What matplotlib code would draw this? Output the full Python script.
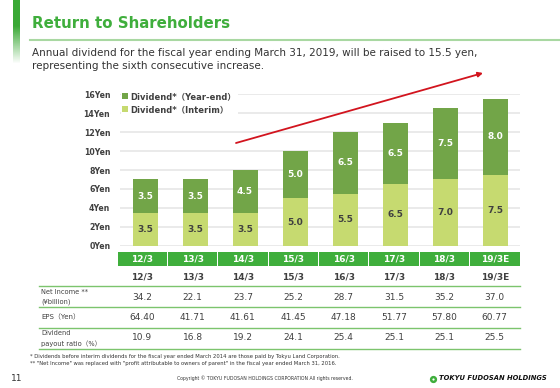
#!/usr/bin/env python3
import numpy as np
import matplotlib
matplotlib.use("Agg")
import matplotlib.pyplot as plt

plt.rcParams['font.family'] = ['DejaVu Sans', 'Noto Sans CJK JP']

# data
periods = ['12/3', '13/3', '14/3', '15/3', '16/3', '17/3', '18/3', '19/3E']
interim = [3.5, 3.5, 3.5, 5.0, 5.5, 6.5, 7.0, 7.5]
year_end = [3.5, 3.5, 4.5, 5.0, 6.5, 6.5, 7.5, 8.0]
net_income = ['34.2', '22.1', '23.7', '25.2', '28.7', '31.5', '35.2', '37.0']
eps = ['64.40', '41.71', '41.61', '41.45', '47.18', '51.77', '57.80', '60.77']
payout = ['10.9', '16.8', '19.2', '24.1', '25.4', '25.1', '25.1', '25.5']
yticks = [0, 2, 4, 6, 8, 10, 12, 14, 16]

GREEN = '#3FAE3C'
DARK = '#72A548'
LIGHT = '#C6DA70'
TXT = '#404040'

W, H = 560, 388
fig = plt.figure(figsize=(W / 100, H / 100), dpi=100)

# bar chart, placed in pixel coordinates
x0, x1, ytop, ybot = 120, 520, 94.3, 245.7
ax = fig.add_axes([x0 / W, (H - ybot) / H, (x1 - x0) / W, (ybot - ytop) / H])
x = np.arange(len(periods))
ax.bar(x, interim, width=0.5, color=LIGHT, zorder=3, label='Dividend*（Interim）')
ax.bar(x, year_end, width=0.5, bottom=interim, color=DARK, zorder=3,
       label='Dividend*（Year-end）')
for i in range(len(periods)):
    ax.text(x[i], interim[i] / 2, f'{interim[i]:.1f}', ha='center', va='center',
            fontsize=6.5, fontweight='bold', color=TXT, zorder=4)
    ax.text(x[i], interim[i] + year_end[i] / 2, f'{year_end[i]:.1f}', ha='center',
            va='center', fontsize=6.5, fontweight='bold', color='white', zorder=4)
ax.set_xlim(-0.5, len(periods) - 0.5)
ax.set_ylim(0, 16)
ax.set_yticks(yticks)
ax.set_yticklabels([f'{v}Yen' for v in yticks], fontsize=5.6, fontweight='bold', color=TXT)
ax.tick_params(axis='y', length=0, pad=7)
ax.set_xticks([])
ax.grid(axis='y', color='#E6E6E6', linewidth=1.2, zorder=0)
for s in ax.spines.values():
    s.set_visible(False)
h, l = ax.get_legend_handles_labels()
leg = ax.legend(h[::-1], l[::-1], loc='upper left', bbox_to_anchor=(121 / W, (H - 90.5) / H),
                bbox_transform=fig.transFigure, frameon=True, fontsize=6,
                handlelength=0.7, handleheight=0.7, handletextpad=0.3,
                labelspacing=0.55, borderpad=0.15, borderaxespad=0)
leg.get_frame().set_facecolor('white')
leg.get_frame().set_edgecolor('none')
leg.get_frame().set_alpha(1)
for t in leg.get_texts():
    t.set_fontweight('bold')
    t.set_color(TXT)

# overlay in pixel coordinates for heading, table and footer
ov = fig.add_axes([0, 0, 1, 1])
ov.axis('off')

# left gradient bar
n = 64
grad = np.ones((n, 1, 4))
grad[:, 0, :3] = matplotlib.colors.to_rgb('#3AA935')
rows = np.arange(n)
grad[:, 0, 3] = np.clip(np.where(rows < 26, 1, 1 - (rows - 26) / 38), 0, 1)
ov.imshow(grad, extent=[13, 19.5, 63, 0], aspect='auto', interpolation='bilinear')
ov.set_xlim(0, W)
ov.set_ylim(H, 0)

ov.text(32, 24, 'Return to Shareholders', fontsize=10.8, fontweight='bold',
        color=GREEN, va='center')
ov.plot([30, W], [39.5, 39.5], color='#A9D8A2', linewidth=1.5)
ov.text(32, 52.5, 'Annual dividend for the fiscal year ending March 31, 2019, will be '
        'raised to 15.5 yen,', fontsize=7.5, color='#333333', va='center')
ov.text(32, 66, 'representing the sixth consecutive increase.', fontsize=7.5,
        color='#333333', va='center')

# red trend arrow
ov.annotate('', xy=(483, 73), xytext=(236, 143),
            arrowprops=dict(arrowstyle='-|>', color='#D2141E', lw=1.3,
                            mutation_scale=7, shrinkA=0, shrinkB=0))

# table
tx0, tx1 = 117, 520
cw = (tx1 - tx0) / len(periods)
for i, p in enumerate(periods):
    cx = tx0 + cw * (i + 0.5)
    ov.add_patch(plt.Rectangle((tx0 + cw * i + 0.5, 252), cw - 1, 13.5,
                               facecolor=GREEN, edgecolor='none'))
    ov.text(cx, 259, p, ha='center', va='center', fontsize=6.5,
            fontweight='bold', color='white')
    ov.text(cx, 277, p, ha='center', va='center', fontsize=6.5,
            fontweight='bold', color=TXT)
    ov.text(cx, 297, net_income[i], ha='center', va='center', fontsize=6.5, color=TXT)
    ov.text(cx, 317, eps[i], ha='center', va='center', fontsize=6.5, color=TXT)
    ov.text(cx, 338, payout[i], ha='center', va='center', fontsize=6.5, color=TXT)
for yy in [286, 307, 328, 349]:
    ov.plot([39, tx1], [yy, yy], color='#7CC46D', linewidth=1)
ov.text(41, 291.5, 'Net Income **', fontsize=4.8, color=TXT, va='center')
ov.text(41, 302, '(¥billion)', fontsize=4.8, color=TXT, va='center')
ov.text(41, 317, 'EPS（Yen）', fontsize=5, color=TXT, va='center')
ov.text(41, 333, 'Dividend', fontsize=4.8, color=TXT, va='center')
ov.text(41, 343.5, 'payout ratio（%）', fontsize=4.8, color=TXT, va='center')

# footnotes and footer
ov.text(30, 356.5, '* Dividends before interim dividends for the fiscal year ended March 2014 '
        'are those paid by Tokyu Land Corporation.', fontsize=3.8, color='#333333', va='center')
ov.text(30, 363.5, '** "Net Income" was replaced with "profit attributable to owners of parent" '
        'in the fiscal year ended March 31, 2016.', fontsize=3.8, color='#333333', va='center')
ov.text(11, 378.5, '11', fontsize=6.5, color='#333333', va='center')
ov.text(265, 378.5, 'Copyright © TOKYU FUDOSAN HOLDINGS CORPORATION All rights reserved.',
        fontsize=3.3, color='#333333', va='center', ha='center')
ov.plot(432.5, 378.5, 'o', markersize=4.2, color='#3FAE3C', markeredgecolor='#3FAE3C')
ov.plot(432.5, 378.5, 'o', markersize=1.6, color='white', markeredgewidth=0)
ov.text(439, 378.5, 'TOKYU FUDOSAN HOLDINGS', fontsize=4.9, fontweight='bold',
        fontstyle='italic', color='#111111', va='center')

fig.savefig('out.png', dpi=100)
